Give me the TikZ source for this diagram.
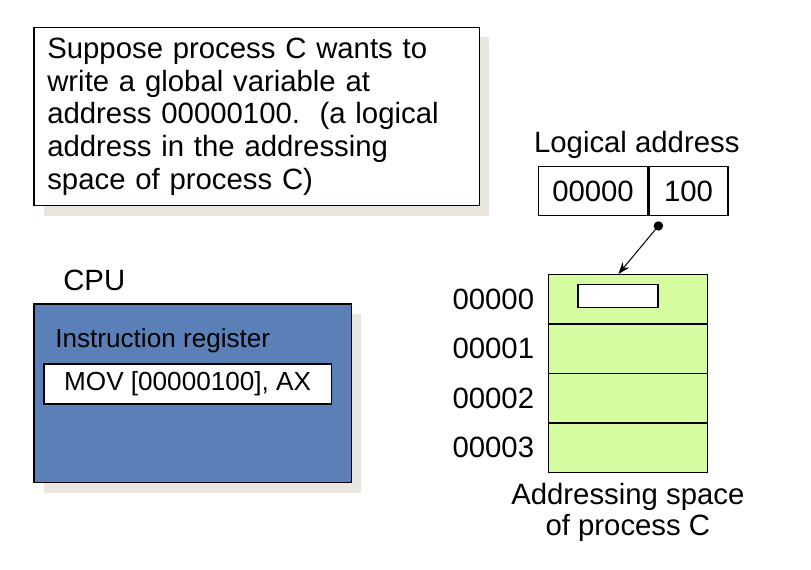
\documentclass[tikz,border=0pt]{standalone}
\usepackage{fontspec}
\setmainfont{Liberation Sans}
\usetikzlibrary{arrows.meta, positioning, shadows, calc}
\usepackage{xcolor}
\definecolor{cpublue}{RGB}{91,127,183}
\definecolor{memgreen}{RGB}{213,252,160}
\definecolor{shade}{RGB}{234,231,224}

\begin{document}
\begin{tikzpicture}[x=0.75pt, y=-0.75pt,
  txt/.style={inner sep=0pt,font=\fontsize{22}{24.5}\selectfont},
  small/.style={inner sep=0pt,font=\fontsize{19.6}{23}\selectfont},
  box/.style={draw,line width=1pt,rectangle},
  shadowed/.style={drop shadow={shadow xshift=7.5pt,shadow yshift=-7.5pt,fill=shade,opacity=1}},
  cell/.style={box,fill=memgreen,minimum width=119.25pt,minimum height=37.1pt,inner sep=0pt},
  ptr/.style={{Circle[length=7pt]}-{Stealth[length=9pt,width=6.5pt]},line width=0.75pt}
]
\useasboundingbox (0,0) rectangle (811,570);

% the question
\node[box,shadowed,fill=white,anchor=north west,text width=314pt,inner xsep=10pt,
      inner ysep=0pt,minimum height=133.7pt,align=left,
      font=\fontsize{22}{24.5}\selectfont] (note) at (33.3,26.7)
  {Suppose process C wants to\\write a global variable at\\address 00000100.\ \ (a logical\\address in the addressing\\space of process C)};

% cpu
\node[txt,anchor=base west] (cpulbl) at (63,291) {CPU};
\node[box,shadowed,fill=cpublue,anchor=north west,minimum width=238pt,minimum height=134pt] (cpu) at (33.3,303.3) {};
\node[small,anchor=base west] (irlbl) at (55,348) {Instruction register};
\node[box,small,fill=white,anchor=north west,minimum width=215.5pt,minimum height=30pt] (ir) at (43.3,363.3) {MOV [00000100], AX};

% logical address
\node[txt,anchor=base] (lalbl) at (636.8,153) {Logical address};
\node[box,txt,anchor=north west,minimum width=82pt,minimum height=37pt] (seg) at (537.7,165.7) {00000};
\node[box,txt,anchor=west,minimum width=59.25pt,minimum height=37pt] (off) at (seg.east) {100};

% addressing space
\foreach \i in {0,...,3}
  \node[cell,anchor=north west] (cell\i) at (547.7,{274+49.5*\i}) {};
\foreach \i in {0,...,3}
  \node[txt,left=10pt of cell\i] (addr\i) {0000\i};
\node[box,fill=white,anchor=north west,minimum width=60pt,minimum height=17.25pt,inner sep=0pt] (slot) at ($(cell0.north west)+(29.6,10)$) {};
\node[txt,align=center,below=7pt of cell3,font=\fontsize{22}{23.8}\selectfont] (caption) {Addressing space\\of process C};

\coordinate (src) at ($(off.south west)+(13,6)$);
\coordinate (dst) at ($(cell0.north)+(-9.5,0)$);
\draw[ptr] (src) -- (dst);
\end{tikzpicture}
\end{document}
